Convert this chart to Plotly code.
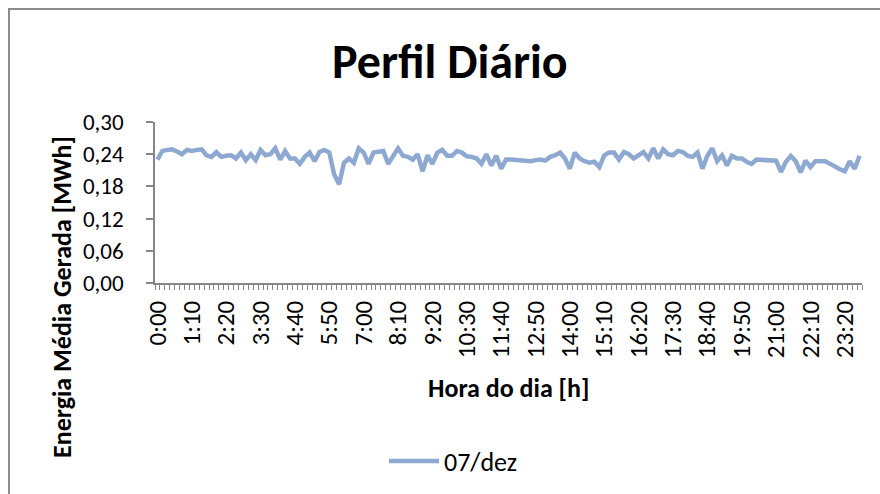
import plotly.graph_objects as go

# 10-minute intervals over one day
times = [f"{h}:{m:02d}" for h in range(24) for m in range(0, 60, 10)]

energia_07dez = [
    0.230, 0.246, 0.248, 0.249, 0.245, 0.240, 0.248, 0.246, 0.248, 0.249,
    0.238, 0.235, 0.244, 0.235, 0.237, 0.238, 0.232, 0.243, 0.229, 0.240,
    0.229, 0.248, 0.238, 0.240, 0.251, 0.230, 0.246, 0.232, 0.232, 0.222,
    0.235, 0.243, 0.227, 0.244, 0.248,
    0.243, 0.202, 0.184, 0.224, 0.232, 0.224, 0.251, 0.243, 0.222, 0.243,
    0.245, 0.246, 0.222, 0.237, 0.251, 0.237, 0.235, 0.230, 0.240, 0.208,
    0.238, 0.222, 0.243, 0.248, 0.237, 0.237, 0.246, 0.243, 0.236, 0.235,
    0.232, 0.222, 0.240, 0.219, 0.237, 0.213, 0.230,
    0.230, 0.229, 0.230, 0.228, 0.227, 0.229, 0.230, 0.228, 0.235, 0.238,
    0.243, 0.232, 0.213, 0.243, 0.232, 0.227, 0.224, 0.226, 0.216, 0.238,
    0.243, 0.243, 0.230, 0.244, 0.240, 0.232, 0.237, 0.244, 0.232, 0.251,
    0.232, 0.249, 0.240, 0.238, 0.246,
    0.244, 0.237, 0.235, 0.243, 0.213, 0.237, 0.251, 0.227, 0.238, 0.219,
    0.237, 0.232, 0.232, 0.226, 0.222, 0.230, 0.230, 0.229, 0.229, 0.228,
    0.207, 0.226, 0.237, 0.227, 0.206, 0.228, 0.216, 0.227, 0.227, 0.227,
    0.222, 0.216, 0.212, 0.208, 0.227, 0.213, 0.237,
]

label_step = 7
tick_labels = times[::label_step]
y_ticks = [0.00, 0.06, 0.12, 0.18, 0.24, 0.30]

FONT = "Carlito, Lato, 'Open Sans', sans-serif"
AXIS_GRAY = "#868686"
LINE_COLOR = "#8EA9D1"

x_idx = list(range(len(times)))

fig = go.Figure()
fig.add_trace(go.Scatter(
    x=x_idx, y=energia_07dez, mode="lines", name="07/dez",
    line=dict(color=LINE_COLOR, width=4.5),
    customdata=times, hovertemplate="%{customdata}: %{y:.3f}<extra></extra>",
))

W, H = 880, 494
L, R, T, B = 155, 862, 122, 283
pw, ph = R - L, B - T


def px_x(p):
    return (p - L) / pw


def px_y(p):
    return (B - p) / ph


fig.update_layout(
    width=W, height=H,
    margin=dict(l=L, r=W - R, t=T, b=H - B, autoexpand=False),
    paper_bgcolor="white", plot_bgcolor="white",
    separators=",.",
    font=dict(family=FONT, size=23, color="black"),
    showlegend=True,
    legend=dict(
        orientation="h", x=px_x(384), y=px_y(461), xanchor="left", yanchor="middle",
        font=dict(size=26, family=FONT), itemwidth=50, bgcolor="rgba(0,0,0,0)",
    ),
    xaxis=dict(
        range=[-0.5, len(times) - 0.5],
        tickmode="array",
        tickvals=x_idx[::label_step],
        ticktext=tick_labels,
        tickangle=-90,
        ticks="", ticklen=0,
        tickfont=dict(size=25, family=FONT),
        showline=True, linecolor=AXIS_GRAY, linewidth=1.5,
        showgrid=False, zeroline=False,
        minor=dict(tickmode="linear", tick0=-0.5, dtick=1, ticks="outside",
                   ticklen=5, tickcolor=AXIS_GRAY, tickwidth=1, showgrid=False),
        ticklabelstandoff=6,
    ),
    yaxis=dict(
        range=[0, 0.30],
        tickmode="array", tickvals=y_ticks,
        tickformat=".2f",
        ticks="outside", ticklen=7, tickcolor=AXIS_GRAY, tickwidth=1.5,
        tickfont=dict(size=23, family=FONT),
        showline=True, linecolor=AXIS_GRAY, linewidth=1.5,
        showgrid=False, zeroline=False,
        ticklabelstandoff=18,
    ),
    shapes=[dict(
        type="rect", xref="paper", yref="paper",
        x0=px_x(9), x1=px_x(900), y0=px_y(520), y1=px_y(9),
        line=dict(color="#8C8C8C", width=2), fillcolor="rgba(0,0,0,0)", layer="below",
    )],
    annotations=[
        dict(text="<b>Perfil Diário</b>", xref="paper", yref="paper",
             x=px_x(450), y=px_y(62), xanchor="center", yanchor="middle",
             showarrow=False, font=dict(size=48, family=FONT)),
        dict(text="<b>Hora do dia [h]</b>", xref="paper", yref="paper",
             x=px_x(508), y=px_y(388), xanchor="center", yanchor="middle",
             showarrow=False, font=dict(size=26, family=FONT)),
        dict(text="<b>Energia Média Gerada [MWh]</b>", xref="paper", yref="paper",
             x=px_x(62), y=px_y(297), xanchor="center", yanchor="middle",
             textangle=-90, showarrow=False, font=dict(size=26, family=FONT)),
    ],
)

fig.write_html("out.html", config={"displayModeBar": False},
               post_script="document.body.style.margin='0';")
